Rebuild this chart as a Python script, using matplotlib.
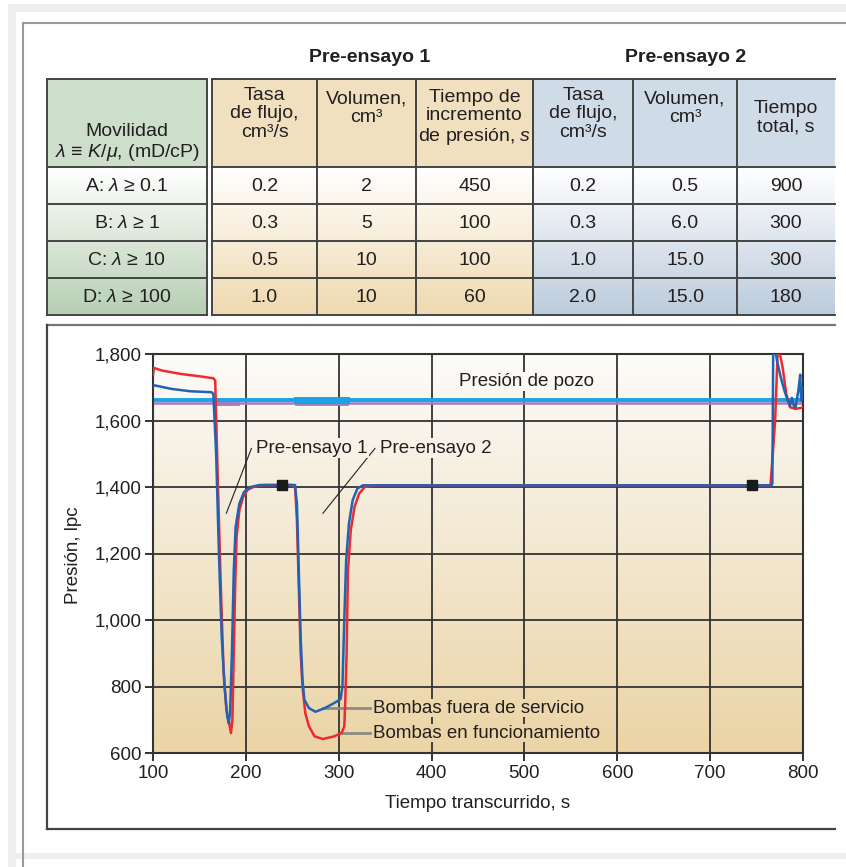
import numpy as np
import matplotlib
matplotlib.use('Agg')
import matplotlib.pyplot as plt
from matplotlib.colors import LinearSegmentedColormap
from matplotlib.ticker import FuncFormatter

plt.rcParams['font.family'] = ['Liberation Sans', 'DejaVu Sans']
plt.rcParams['mathtext.fontset'] = 'custom'
plt.rcParams['mathtext.rm'] = 'Liberation Sans'
plt.rcParams['mathtext.it'] = 'Liberation Sans:italic'

TXT = '#231f20'
LINE = '#444444'

# ---- table data ----
mobility = [r'A: $\lambda$ ≥ 0.1', r'B: $\lambda$ ≥ 1', r'C: $\lambda$ ≥ 10', r'D: $\lambda$ ≥ 100']
pre1_rate = [0.2, 0.3, 0.5, 1.0]
pre1_vol = [2, 5, 10, 10]
pre1_time = [450, 100, 100, 60]
pre2_rate = [0.2, 0.3, 1.0, 2.0]
pre2_vol = [0.5, 6.0, 15.0, 15.0]
pre2_total = [900, 300, 300, 180]

hdr_mob = 'Movilidad\n' + r'$\lambda$ ≡ $K/\mu$, (mD/cP)'
hdr1 = ['Tasa\nde flujo,\ncm³/s', 'Volumen,\ncm³', 'Tiempo de\nincremento\nde presión, $s$']
hdr2 = ['Tasa\nde flujo,\ncm³/s', 'Volumen,\ncm³', 'Tiempo\ntotal, s']

# ---- chart data ----
red_t = [100, 101, 110, 130, 150, 165, 167, 170, 173, 176, 179, 182, 184, 185.5, 187, 188.5, 190, 193,
         197, 202, 210, 220, 250, 253, 255, 257, 259, 261, 264, 268, 274, 283, 295, 303, 306, 307, 308.5,
         310, 313, 317, 322, 328, 340, 765, 770, 773, 778, 782, 786, 792, 798, 800]
red_p = [1737, 1758, 1750, 1740, 1733, 1727, 1720, 1400, 1100, 850, 730, 690, 660, 700, 900, 1100, 1250, 1330,
         1370, 1392, 1402, 1406, 1406, 1400, 1300, 1100, 900, 800, 720, 680, 650, 642, 650, 660, 680, 750, 900,
         1150, 1270, 1340, 1380, 1400, 1405, 1405, 1600, 1830, 1760, 1680, 1640, 1635, 1638, 1640]

blue_t = [100, 101, 120, 140, 163, 165, 168, 171, 174, 177, 180, 181.5, 183, 185, 187, 189, 193, 198, 205,
          215, 253, 255, 257, 259, 261, 263, 268, 275, 285, 295, 302, 304, 306, 308, 311, 315, 320, 326,
          766, 767, 768, 772, 776, 780, 783, 786, 788, 790, 792, 795, 797, 798, 800]
blue_p = [1700, 1706, 1695, 1688, 1685, 1680, 1500, 1200, 950, 800, 710, 690, 720, 900, 1150, 1280, 1350, 1385, 1400,
          1406, 1406, 1350, 1150, 950, 820, 760, 735, 724, 735, 750, 762, 800, 1000, 1180, 1290, 1360, 1395, 1405,
          1405, 1410, 1850, 1780, 1730, 1690, 1665, 1645, 1668, 1645, 1640, 1690, 1738, 1660, 1700]

well_t = [100, 800]
well_p = [1662, 1662]
well_thick_t = [255, 308]
purple_p = [1652, 1652]
purple_thick = [[167, 190], [255, 308]]

marker_t = [239, 745]
marker_p = [1406, 1406]

fig = plt.figure(figsize=(8.46, 8.67), dpi=100)

# background axes in pixel units for the table and frames
bg = fig.add_axes([0, 0, 1, 1])
bg.set_xlim(0, 846)
bg.set_ylim(867, 0)
bg.axis('off')

# outer page frame
bg.fill_between([8, 846], 4, 12, color='#efefef', lw=0)
bg.fill_between([8, 16], 4, 867, color='#efefef', lw=0)
bg.fill_between([8, 846], 853, 859, color='#efefef', lw=0)
bg.plot([23, 846], [23, 23], color='#9a9a9a', lw=1.5)
bg.plot([23, 23], [23, 867], color='#9a9a9a', lw=1.5)

rows_y = [79, 167, 204, 241, 278, 315]


def grad(x0, x1, y0, y1, c0, c1):
    cmap = LinearSegmentedColormap.from_list('g', [c0, c1])
    bg.imshow(np.linspace(0, 1, 128).reshape(-1, 1), cmap=cmap, aspect='auto',
              extent=(x0, x1, y1, y0), origin='upper', zorder=1)


groups = [
    # x edges, header colour, row gradient end colour
    ([47, 207], '#cddfca', '#b7cfb3'),
    ([212, 317, 416, 533], '#f1e0c0', '#efd9af'),
    ([533, 633, 737, 835], '#d0dbe8', '#bccbdc'),
]
for xs, hc, rc in groups:
    bg.fill_between([xs[0], xs[-1]], rows_y[0], rows_y[1], color=hc, lw=0, zorder=1)
    grad(xs[0], xs[-1], rows_y[1], rows_y[-1], '#ffffff', rc)
    for y in rows_y:
        bg.plot([xs[0], xs[-1]], [y, y], color=LINE, lw=1.4, zorder=2)
    for x in xs:
        if x == 835:
            continue
        bg.plot([x, x], [rows_y[0], rows_y[-1]], color=LINE, lw=1.4, zorder=2)

fs_tab = 14
bg.text(370, 58, 'Pre-ensayo 1', ha='center', va='center', fontsize=14, fontweight='bold', color=TXT)
bg.text(686, 58, 'Pre-ensayo 2', ha='center', va='center', fontsize=14, fontweight='bold', color=TXT)

# header texts
bg.text(127, 143, hdr_mob, ha='center', va='center', fontsize=fs_tab, color=TXT, linespacing=1.1, zorder=3)
col_centers = [264.5, 366.5, 474.5, 583, 685, 786]
hdr_y = [114, 108, 118, 114, 108, 118]
for cx, hy, h in zip(col_centers, hdr_y, hdr1 + hdr2):
    bg.text(cx, hy, h, ha='center', va='center', fontsize=fs_tab, color=TXT, linespacing=1.08, zorder=3)

# row values
cols = [
    [f'{v:.1f}' for v in pre1_rate],
    [f'{v:g}' for v in pre1_vol],
    [f'{v}' for v in pre1_time],
    [f'{v:.1f}' for v in pre2_rate],
    [f'{v:.1f}' for v in pre2_vol],
    [f'{v}' for v in pre2_total],
]
for i in range(4):
    yc = (rows_y[i + 1] + rows_y[i + 2]) / 2 + 1
    bg.text(127, yc, mobility[i], ha='center', va='center', fontsize=fs_tab, color=TXT, zorder=3)
    for cx, col in zip(col_centers, cols):
        bg.text(cx, yc, col[i], ha='center', va='center', fontsize=fs_tab, color=TXT, zorder=3)

# chart frame
bg.plot([47, 835], [325, 325], color='#777777', lw=1.6)
bg.plot([47, 47], [325, 829], color='#444444', lw=1.6)
bg.plot([47, 835], [829, 829], color='#444444', lw=1.6)

# axis titles
bg.text(478, 803, 'Tiempo transcurrido, s', ha='center', va='center', fontsize=13.5, color=TXT)
bg.text(73, 555, 'Presión, lpc', ha='center', va='center', fontsize=13.5, color=TXT, rotation=90)

# ---- chart ----
ax = fig.add_axes([153 / 846, 1 - 753 / 867, 650 / 846, 399 / 867])
bg_cmap = LinearSegmentedColormap.from_list('bgc', [(0, '#fdfcf9'), (0.3, '#f6efe1'), (1, '#ebd4a5')])
ax.imshow(np.linspace(0, 1, 256).reshape(-1, 1), cmap=bg_cmap, aspect='auto',
          extent=(100, 800, 600, 1800), origin='upper', zorder=0)


def bg_at(p):
    return bg_cmap((1800 - p) / 1200)


ax.set_xlim(100, 800)
ax.set_ylim(600, 1800)
ax.set_xticks(range(100, 801, 100))
ax.set_yticks(range(600, 1801, 200))
ax.yaxis.set_major_formatter(FuncFormatter(lambda v, _: f'{int(v):,}'))
ax.tick_params(direction='out', length=6, width=1.4, color='#333333', labelsize=13.5,
               labelcolor=TXT, pad=2.5)
ax.set_axisbelow(True)
ax.grid(True, color='#333333', lw=1.3)
for s in ax.spines.values():
    s.set_color('#333333')
    s.set_linewidth(1.5)

# well pressure
ax.plot(well_t, purple_p, color='#a57bbd', lw=1.8, zorder=2)
for seg in purple_thick:
    ax.plot(seg, purple_p, color='#a57bbd', lw=3.5, zorder=2)
ax.plot(well_t, well_p, color='#1aa3e6', lw=2.8, zorder=2.1)
ax.plot(well_thick_t, well_p, color='#1aa3e6', lw=5, zorder=2.1)

# pretests
ax.plot(red_t, red_p, color='#ee2a2e', lw=1.8, zorder=3)
ax.plot(blue_t, blue_p, color='#2063b5', lw=1.8, zorder=3.1)
ax.plot(marker_t, marker_p, 's', color='#1a1a1a', ms=7, zorder=4)

# annotations
ax.text(502, 1717, 'Presión de pozo', ha='center', va='center', fontsize=13.5, color=TXT, zorder=3,
        bbox=dict(facecolor=bg_at(1717), edgecolor='none', pad=1))
ax.plot([206, 179], [1516, 1321], color='#222222', lw=0.8, zorder=3)
ax.plot([339, 283], [1516, 1321], color='#222222', lw=0.8, zorder=3)
ax.text(211, 1517, 'Pre-ensayo 1', ha='left', va='center', fontsize=13.5, color=TXT, zorder=3,
        bbox=dict(facecolor=bg_at(1517), edgecolor='none', pad=1))
ax.text(344, 1517, 'Pre-ensayo 2', ha='left', va='center', fontsize=13.5, color=TXT, zorder=3,
        bbox=dict(facecolor=bg_at(1517), edgecolor='none', pad=1))
ax.plot([283, 334], [735, 735], color='#8c8c84', lw=2, zorder=2.5)
ax.plot([303, 334], [660, 660], color='#8c8c84', lw=2, zorder=2.5)
ax.text(337, 735, 'Bombas fuera de servicio', ha='left', va='center', fontsize=13.5, color=TXT, zorder=3,
        bbox=dict(facecolor=bg_at(735), edgecolor='none', pad=0.5))
ax.text(337, 660, 'Bombas en funcionamiento', ha='left', va='center', fontsize=13.5, color=TXT, zorder=3,
        bbox=dict(facecolor=bg_at(660), edgecolor='none', pad=0.5))

fig.savefig('out.png', dpi=100)
